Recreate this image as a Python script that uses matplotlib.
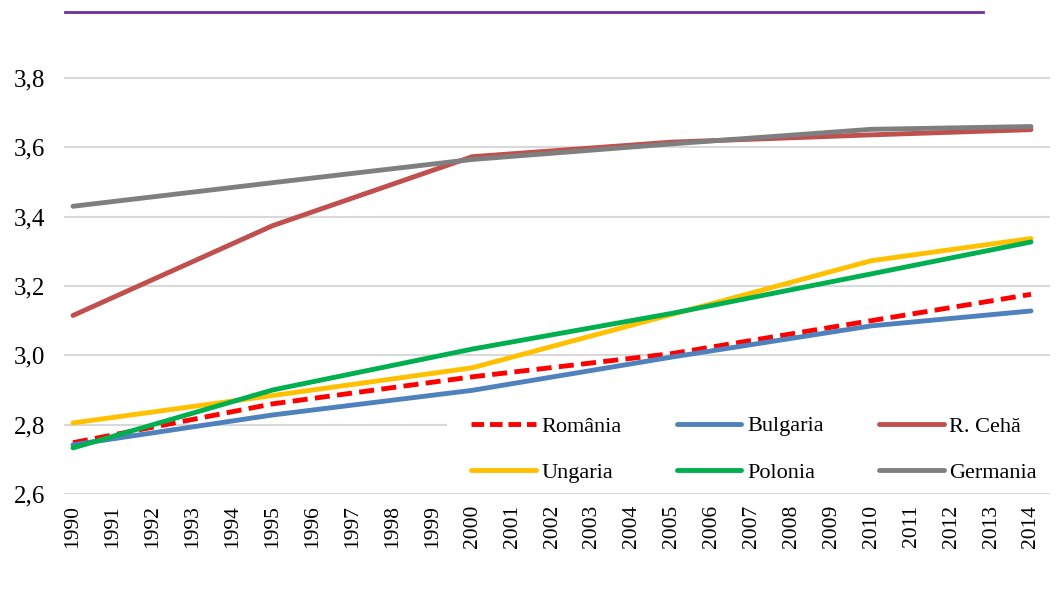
import matplotlib
matplotlib.use("Agg")
import matplotlib.pyplot as plt
from matplotlib.lines import Line2D
from matplotlib.patches import Rectangle

plt.rcParams['font.family'] = ['Liberation Serif', 'DejaVu Serif']

years = list(range(1990, 2015))
knot_years = [1990, 1995, 2000, 2005, 2010, 2014]

romania = [2.748, 2.860, 2.938, 3.005, 3.100, 3.176]
bulgaria = [2.742, 2.828, 2.899, 2.995, 3.085, 3.128]
cehia = [3.115, 3.374, 3.573, 3.615, 3.636, 3.651]
ungaria = [2.805, 2.884, 2.964, 3.118, 3.273, 3.337]
polonia = [2.733, 2.900, 3.018, 3.121, 3.235, 3.327]
germania = [3.430, 3.498, 3.565, 3.610, 3.652, 3.660]

labels = ['România', 'Bulgaria', 'R. Cehă', 'Ungaria', 'Polonia', 'Germania']
colors = ['#FF0000', '#4F81BD', '#C0504D', '#FFC000', '#00B050', '#7F7F7F']
yticks = [2.6, 2.8, 3.0, 3.2, 3.4, 3.6, 3.8]
ytick_labels = ['2,6', '2,8', '3,0', '3,2', '3,4', '3,6', '3,8']

W, H = 1056, 607
fig = plt.figure(figsize=(W / 100, H / 100), dpi=100)
ax_left, ax_right = 64, 1050
y_bot_px, y_top_px = 494, 12
ax = fig.add_axes([ax_left / W, 1 - y_bot_px / H, (ax_right - ax_left) / W, (y_bot_px - y_top_px) / H])

px_per_unit = (494 - 78) / 1.2
ax.set_ylim(2.6, 2.6 + (y_bot_px - y_top_px) / px_per_unit)
px_per_year = (1031 - 73) / 24
ax.set_xlim(1990 - (73 - ax_left) / px_per_year, 2014 + (ax_right - 1031) / px_per_year)

for y in yticks:
    ax.axhline(y, color='#D9D9D9', lw=1.5, zorder=0)

series = [romania, bulgaria, cehia, ungaria, polonia, germania]
lw = 3.5
order = [1, 2, 5, 3, 4, 0]
for i in order:
    if i == 0:
        ax.plot(knot_years, series[i], color=colors[i], lw=lw, dashes=(3.1, 1.5),
                dash_capstyle='butt', zorder=3 + i)
    else:
        ax.plot(knot_years, series[i], color=colors[i], lw=lw,
                solid_capstyle='round', solid_joinstyle='round', zorder=3 + i)

# white legend background (covers gridlines, not the bottom one)
ax.add_patch(Rectangle((447 / W, 1 - 492 / H), (ax_right - 447) / W, (492 - 397) / H,
                       transform=fig.transFigure, facecolor='white', edgecolor='none', zorder=1))

leg_handles = []
for i in range(6):
    if i == 0:
        leg_handles.append(Line2D([0], [0], color=colors[i], lw=lw, dashes=(2.6, 1.2)))
    else:
        leg_handles.append(Line2D([0], [0], color=colors[i], lw=lw, solid_capstyle='round'))

# matplotlib fills legend column-wise; reorder to get row-wise layout
idx = [0, 3, 1, 4, 2, 5]
leg = ax.legend([leg_handles[i] for i in idx], [labels[i] for i in idx], ncol=3,
                loc='center', bbox_to_anchor=(754 / W, 1 - 449.5 / H),
                bbox_transform=fig.transFigure, frameon=False, fontsize=16,
                handlelength=2.9, handletextpad=0.25, columnspacing=2.5,
                labelspacing=1.17, borderpad=0, borderaxespad=0)
leg.set_zorder(10)

ax.set_yticks(yticks)
ax.set_yticklabels(ytick_labels, fontsize=18)
ax.set_xticks(years)
ax.set_xticklabels([str(y) for y in years], rotation=90, fontsize=15.5)
ax.tick_params(axis='both', length=0)
ax.tick_params(axis='y', pad=13.7)
ax.tick_params(axis='x', pad=8)
for s in ax.spines.values():
    s.set_visible(False)

fig.add_artist(Line2D([65 / W, 983 / W], [1 - 12 / H, 1 - 12 / H], color='#7030A0', lw=2.0))

fig.savefig('out.png', dpi=100, facecolor='white')
